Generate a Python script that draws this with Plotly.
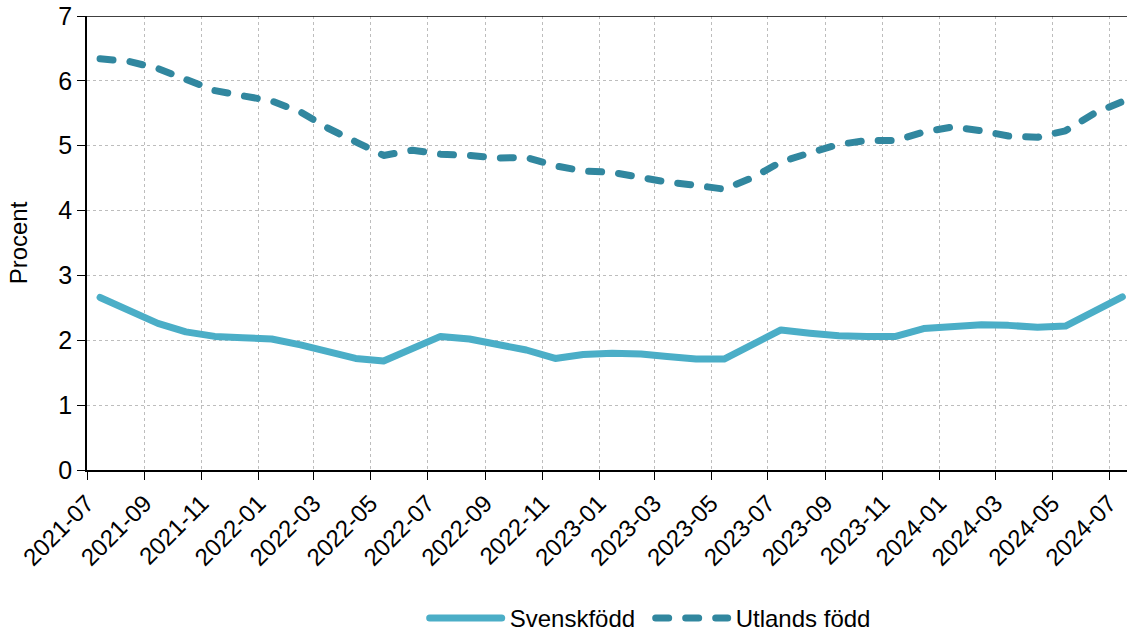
import plotly.graph_objects as go

months = [
    "2021-07", "2021-08", "2021-09", "2021-10", "2021-11", "2021-12",
    "2022-01", "2022-02", "2022-03", "2022-04", "2022-05", "2022-06",
    "2022-07", "2022-08", "2022-09", "2022-10", "2022-11", "2022-12",
    "2023-01", "2023-02", "2023-03", "2023-04", "2023-05", "2023-06",
    "2023-07", "2023-08", "2023-09", "2023-10", "2023-11", "2023-12",
    "2024-01", "2024-02", "2024-03", "2024-04", "2024-05", "2024-06",
    "2024-07",
]

svenskfodd = [
    2.66, 2.47, 2.26, 2.13, 2.06, 2.04,
    2.02, 1.93, 1.82, 1.72, 1.68, 1.87,
    2.06, 2.02, 1.94, 1.85, 1.72, 1.78,
    1.80, 1.79, 1.75, 1.71, 1.71, 1.93,
    2.16, 2.11, 2.07, 2.06, 2.06, 2.18,
    2.22, 2.24, 2.23, 2.20, 2.22, 2.46,
    2.67,
]

utlands_fodd = [
    6.34, 6.30, 6.19, 6.01, 5.85, 5.77,
    5.69, 5.52, 5.28, 5.06, 4.85, 4.93,
    4.87, 4.85, 4.81, 4.82, 4.69, 4.61,
    4.59, 4.51, 4.44, 4.39, 4.33, 4.51,
    4.75, 4.89, 5.02, 5.08, 5.08, 5.21,
    5.29, 5.23, 5.15, 5.13, 5.23, 5.50,
    5.68,
]

dates = [m + "-15" for m in months]

FONT = "Liberation Sans, Arial, sans-serif"

fig = go.Figure()
fig.add_trace(go.Scatter(
    x=dates, y=svenskfodd, name="Svenskfödd", mode="lines",
    line=dict(color="#4BAEC7", width=7),
))
fig.add_trace(go.Scatter(
    x=dates, y=utlands_fodd, name="Utlands född", mode="lines",
    line=dict(color="#31879F", width=7, dash="13px,17px"),
))

fig.add_shape(type="line", xref="paper", yref="y", x0=0, x1=1, y0=7, y1=7,
              line=dict(color="black", width=1.5), layer="above")

fig.update_layout(
    width=1127, height=641,
    margin=dict(l=87, r=0, t=16, b=171),
    paper_bgcolor="white", plot_bgcolor="white",
    font=dict(family=FONT, size=24, color="black"),
    showlegend=True,
    legend=dict(
        orientation="h", xref="paper", yref="container",
        x=0.542, xanchor="center", y=0.0, yanchor="bottom",
        font=dict(size=24), itemwidth=75, entrywidth=136,
    ),
    xaxis=dict(
        type="date", range=["2021-07-01", "2024-07-20"],
        tick0="2021-07-01", dtick="M2", tickformat="%Y-%m",
        tickangle=-45, ticks="outside", ticklen=8, tickcolor="black",
        showline=True, linecolor="black", linewidth=1.5,
        showgrid=True, gridcolor="#bdbdbd", griddash="dot", gridwidth=1,
        tickfont=dict(size=24), zeroline=False,
    ),
    yaxis=dict(
        range=[0, 7], dtick=1, ticks="outside", ticklen=8, tickcolor="black",
        showline=True, linecolor="black", linewidth=1.5,
        showgrid=True, gridcolor="#bdbdbd", griddash="dot", gridwidth=1,
        tickfont=dict(size=25), zeroline=False,
        title=dict(text="Procent", font=dict(size=24), standoff=24),
    ),
)

post = """
document.body.style.margin='0';
document.body.style.overflow='hidden';
var gd = document.getElementById('{plot_id}');
function fixStyles(){
  document.querySelectorAll('.scatterlayer path.js-line').forEach(function(p){
    p.style.strokeLinecap='round'; p.style.strokeLinejoin='round';
  });
  document.querySelectorAll('.legend path.js-line').forEach(function(p){
    p.setAttribute('d','M5,0h72');
    p.style.strokeLinecap='round';
  });
}
fixStyles();
if (gd && gd.on) { gd.on('plotly_afterplot', fixStyles); }
"""

fig.write_html("out.html", post_script=post, config={"displayModeBar": False})
